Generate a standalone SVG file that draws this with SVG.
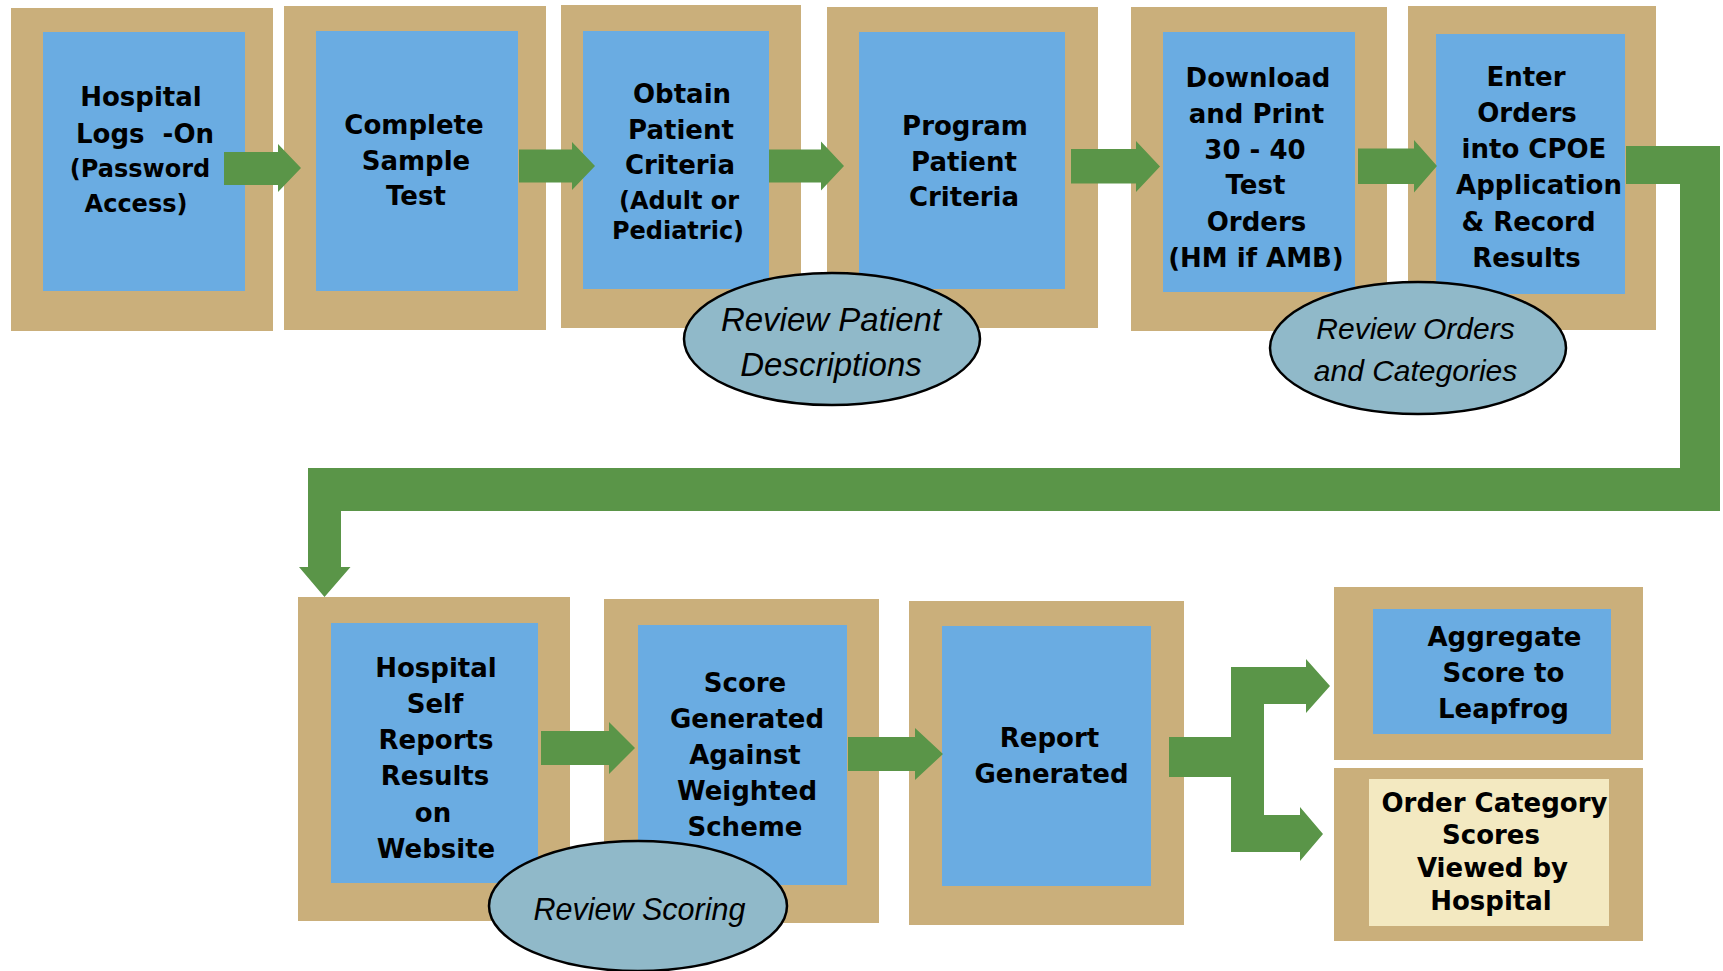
<svg xmlns="http://www.w3.org/2000/svg" width="1723" height="971" viewBox="0 0 1723 971">
<style>
.outer{fill:#CAAF7B}
.inner{fill:#6AACE2}
.cream{fill:#F3E9C1}
.arrow{fill:#5A9548}
.oval{fill:#90B9C9;stroke:#000;stroke-width:2.5}
.t{font-family:"DejaVu Sans",Verdana,sans-serif;font-weight:bold;font-size:26px;fill:#000;text-anchor:middle}
.s{font-size:24px}
.i{font-family:"Liberation Sans",Arial,sans-serif;font-style:italic;fill:#000;text-anchor:middle}
</style>
<rect width="1723" height="971" fill="#fff"/>
<g id="n1">
<rect class="outer" x="11" y="8" width="262" height="323"/>
<rect class="inner" x="43" y="32" width="202" height="259"/>
<text class="t" x="141" y="106">Hospital</text>
<text class="t" x="145" y="142.5" style="white-space:pre">Logs  -On</text>
<text class="t s" x="140" y="177">(Password</text>
<text class="t s" x="136" y="212">Access)</text>
</g>
<g id="n2">
<rect class="outer" x="284" y="6" width="262" height="324"/>
<rect class="inner" x="316" y="31" width="202" height="260"/>
<text class="t" x="414" y="133.5">Complete</text>
<text class="t" x="416" y="170">Sample</text>
<text class="t" x="416" y="205">Test</text>
</g>
<g id="n3">
<rect class="outer" x="561" y="5" width="240" height="323"/>
<rect class="inner" x="583" y="31" width="186" height="258"/>
<text class="t" x="682" y="103">Obtain</text>
<text class="t" x="681" y="139">Patient</text>
<text class="t" x="680" y="174">Criteria</text>
<text class="t s" x="679" y="209">(Adult or</text>
<text class="t s" x="678" y="239">Pediatric)</text>
</g>
<g id="n4">
<rect class="outer" x="827" y="7" width="271" height="321"/>
<rect class="inner" x="859" y="32" width="206" height="257"/>
<text class="t" x="965" y="135">Program</text>
<text class="t" x="964" y="171">Patient</text>
<text class="t" x="964" y="206">Criteria</text>
</g>
<g id="n5">
<rect class="outer" x="1131" y="7" width="256" height="324"/>
<rect class="inner" x="1163" y="32" width="192" height="260"/>
<text class="t" x="1258" y="86.5">Download</text>
<text class="t" x="1256.5" y="122.7">and Print</text>
<text class="t" x="1255" y="158.5">30 - 40</text>
<text class="t" x="1255.5" y="194.3">Test</text>
<text class="t" x="1256.5" y="230.7">Orders</text>
<text class="t" x="1256" y="266.7">(HM if AMB)</text>
</g>
<g id="n6">
<rect class="outer" x="1408" y="6" width="248" height="324"/>
<rect class="inner" x="1436" y="34" width="189" height="260"/>
<text class="t" x="1526" y="86">Enter</text>
<text class="t" x="1527" y="122.3">Orders</text>
<text class="t" x="1534" y="158.3">into CPOE</text>
<text class="t" x="1539" y="194.3">Application</text>
<text class="t" x="1528.5" y="230.7">&amp; Record</text>
<text class="t" x="1526.5" y="266.7">Results</text>
</g>
<g id="n7">
<rect class="outer" x="298" y="597" width="272" height="324"/>
<rect class="inner" x="331" y="623" width="207" height="260"/>
<text class="t" x="436" y="676.5">Hospital</text>
<text class="t" x="435" y="712.8">Self</text>
<text class="t" x="436" y="749">Reports</text>
<text class="t" x="435" y="785.3">Results</text>
<text class="t" x="433" y="822">on</text>
<text class="t" x="436" y="858">Website</text>
</g>
<g id="n8">
<rect class="outer" x="604" y="599" width="275" height="324"/>
<rect class="inner" x="638" y="625" width="209" height="260"/>
<text class="t" x="745" y="691.5">Score</text>
<text class="t" x="747" y="727.5">Generated</text>
<text class="t" x="745" y="764">Against</text>
<text class="t" x="747" y="800">Weighted</text>
<text class="t" x="745" y="835.5">Scheme</text>
</g>
<g id="n9">
<rect class="outer" x="909" y="601" width="275" height="324"/>
<rect class="inner" x="942" y="626" width="209" height="260"/>
<text class="t" x="1049.5" y="747">Report</text>
<text class="t" x="1051.5" y="782.5">Generated</text>
</g>
<g id="n10">
<rect class="outer" x="1334" y="587" width="309" height="173"/>
<rect class="inner" x="1373" y="609" width="238" height="125"/>
<text class="t" x="1504.5" y="646">Aggregate</text>
<text class="t" x="1503.5" y="681.5">Score to</text>
<text class="t" x="1503.5" y="717.5">Leapfrog</text>
</g>
<g id="n11">
<rect class="outer" x="1334" y="768" width="309" height="173"/>
<rect class="cream" x="1369" y="779" width="240" height="147"/>
<text class="t" x="1494.5" y="812">Order Category</text>
<text class="t" x="1491" y="844">Scores</text>
<text class="t" x="1492.5" y="877">Viewed by</text>
<text class="t" x="1491" y="909.5">Hospital</text>
</g>
<g id="connectors">
<polygon class="arrow" points="224,152 278,152 278,144 301,168 278,192 278,185 224,185"/>
<polygon class="arrow" points="519,149.5 572,149.5 572,142 595,166 572,190 572,182.5 519,182.5"/>
<polygon class="arrow" points="769,149.5 821,149.5 821,141.5 844,166 821,190.5 821,182.5 769,182.5"/>
<polygon class="arrow" points="1071,149 1136,149 1136,141 1160,166.5 1136,192 1136,183.5 1071,183.5"/>
<polygon class="arrow" points="1358,148.5 1414,148.5 1414,140 1437,166 1414,192.5 1414,184 1358,184"/>
<polygon class="arrow" points="1626,146 1720,146 1720,511 341,511 341,567 350.5,567 324.5,597 299,567 308,567 308,468 1680,468 1680,184 1626,184"/>
<polygon class="arrow" points="541,731 609,731 609,722 635,748 609,774 609,765 541,765"/>
<polygon class="arrow" points="848,737 915,737 915,728 943,754 915,780 915,771 848,771"/>
<polygon class="arrow" points="1169,737 1231,737 1231,667 1306,667 1306,659 1330,686 1306,713 1306,704 1264,704 1264,815 1300,815 1300,807 1323,834 1300,861 1300,852 1231,852 1231,777 1169,777"/>
</g>
<g id="e1">
<ellipse class="oval" cx="832" cy="339" rx="148" ry="66"/>
<text class="i" x="831" y="330.5" font-size="33">Review Patient</text>
<text class="i" x="831" y="375.5" font-size="33">Descriptions</text>
</g>
<g id="e2">
<ellipse class="oval" cx="1418" cy="348" rx="148" ry="66"/>
<text class="i" x="1415.5" y="339.3" font-size="30">Review Orders</text>
<text class="i" x="1415.5" y="380.5" font-size="30">and Categories</text>
</g>
<g id="e3">
<ellipse class="oval" cx="638" cy="906" rx="149" ry="65"/>
<text class="i" x="639.5" y="919.5" font-size="30.5">Review Scoring</text>
</g>
</svg>
